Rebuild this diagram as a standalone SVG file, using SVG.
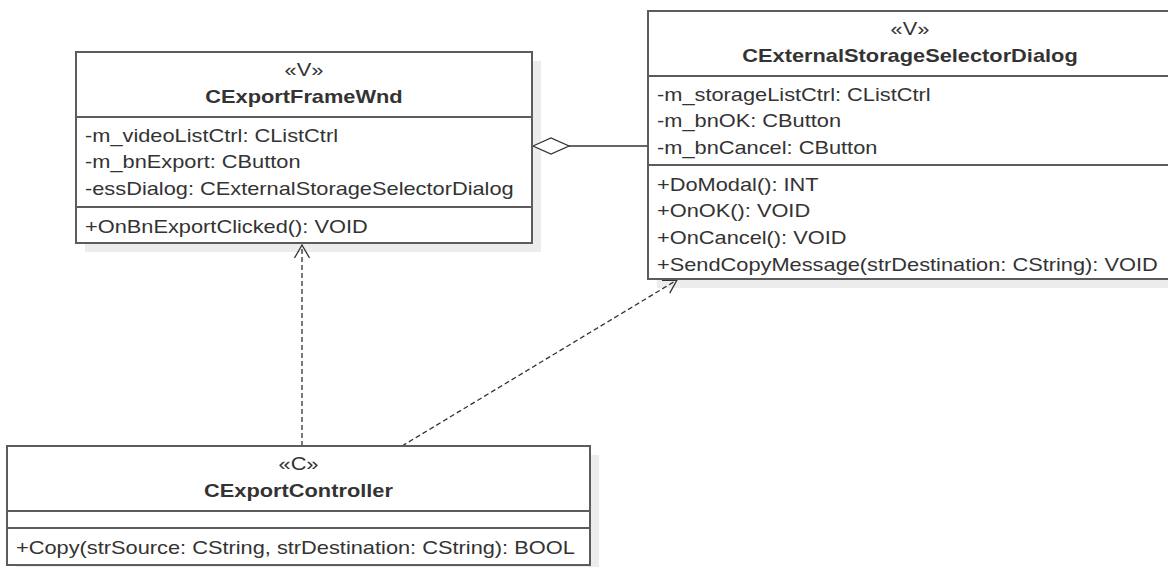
<svg xmlns="http://www.w3.org/2000/svg" width="1168" height="567" viewBox="0 0 1168 567">
<defs>
<style>
.shadow{fill:#ececec;stroke:none}
.box{fill:#ffffff;stroke:#5c5c5c;stroke-width:2}
.sep{stroke:#5c5c5c;stroke-width:2}
.t{font-family:"Liberation Sans",Arial,sans-serif;font-size:19px;fill:#333333}
.b{font-weight:bold}
.m{text-anchor:middle}
.dep{fill:none;stroke:#333333;stroke-width:1.3;stroke-dasharray:5 3}
.agg{fill:none;stroke:#333333;stroke-width:1.3}
</style>
<marker id="open" markerUnits="userSpaceOnUse" viewBox="-16 -10 20 20" markerWidth="20" markerHeight="20" refX="0" refY="0" orient="auto" overflow="visible">
<path d="M-13,-7.5 L0,0 L-13,7.5" fill="none" stroke="#333333" stroke-width="1.3"/>
</marker>
</defs>
<rect width="1168" height="567" fill="#ffffff"/>

<g id="shadows">
<rect class="shadow" x="85" y="61" width="456" height="191"/>
<rect class="shadow" x="657" y="20" width="524" height="268"/>
<rect class="shadow" x="16" y="455" width="583" height="119"/>
</g>

<g id="connectors">
<path class="agg" d="M569,146 L648,146"/>
<path class="agg" fill="#ffffff" d="M533,146 L551,138 L569,146 L551,154 Z" style="fill:#ffffff"/>
<path class="dep" d="M302,446 L302,245" marker-end="url(#open)"/>
<path class="dep" d="M402,446 L677,280" marker-end="url(#open)"/>
</g>

<g id="CExportFrameWnd">
<rect class="box" x="76" y="52" width="456" height="191"/>
<line class="sep" x1="76" y1="117" x2="532" y2="117"/>
<line class="sep" x1="76" y1="207" x2="532" y2="207"/>
<text class="t m" transform="translate(304 76) scale(1.147 1)">«V»</text>
<text class="t m b" transform="translate(304 103) scale(1.147 1)">CExportFrameWnd</text>
<text class="t" transform="translate(85 141.5) scale(1.147 1)">-m_videoListCtrl: CListCtrl</text>
<text class="t" transform="translate(85 168) scale(1.147 1)">-m_bnExport: CButton</text>
<text class="t" transform="translate(85 195) scale(1.147 1)">-essDialog: CExternalStorageSelectorDialog</text>
<text class="t" transform="translate(85 232.5) scale(1.147 1)">+OnBnExportClicked(): VOID</text>
</g>

<g id="CExternalStorageSelectorDialog">
<rect class="box" x="648" y="11" width="524" height="268"/>
<line class="sep" x1="648" y1="76" x2="1172" y2="76"/>
<line class="sep" x1="648" y1="165" x2="1172" y2="165"/>
<text class="t m" transform="translate(910 35) scale(1.147 1)">«V»</text>
<text class="t m b" transform="translate(910 62) scale(1.147 1)">CExternalStorageSelectorDialog</text>
<text class="t" transform="translate(657 100.5) scale(1.147 1)">-m_storageListCtrl: CListCtrl</text>
<text class="t" transform="translate(657 127) scale(1.147 1)">-m_bnOK: CButton</text>
<text class="t" transform="translate(657 154) scale(1.147 1)">-m_bnCancel: CButton</text>
<text class="t" transform="translate(657 190.5) scale(1.147 1)">+DoModal(): INT</text>
<text class="t" transform="translate(657 217) scale(1.147 1)">+OnOK(): VOID</text>
<text class="t" transform="translate(657 244) scale(1.147 1)">+OnCancel(): VOID</text>
<text class="t" transform="translate(657 270.5) scale(1.147 1)">+SendCopyMessage(strDestination: CString): VOID</text>
</g>

<g id="CExportController">
<rect class="box" x="7" y="446" width="583" height="119"/>
<line class="sep" x1="7" y1="511" x2="590" y2="511"/>
<line class="sep" x1="7" y1="528" x2="590" y2="528"/>
<text class="t m" transform="translate(298.5 470) scale(1.147 1)">«C»</text>
<text class="t m b" transform="translate(298.5 497) scale(1.147 1)">CExportController</text>
<text class="t" transform="translate(16 554) scale(1.147 1)">+Copy(strSource: CString, strDestination: CString): BOOL</text>
</g>
</svg>
